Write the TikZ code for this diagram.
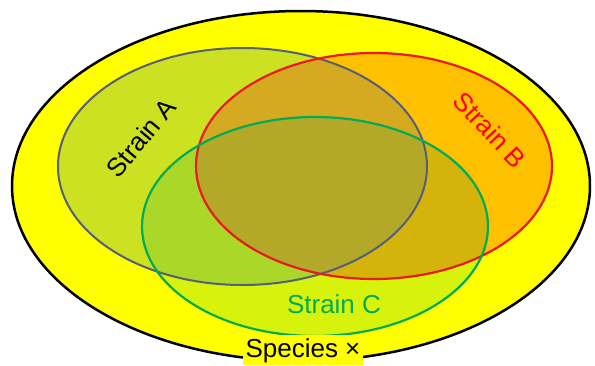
\documentclass[tikz,border=0pt]{standalone}
\usepackage{fontspec}
\setmainfont{Liberation Sans}
\definecolor{ybg}{RGB}{255,255,0}
\definecolor{aonly}{RGB}{205,225,35}
\definecolor{bonly}{RGB}{255,192,0}
\definecolor{conly}{RGB}{215,243,12}
\definecolor{abcol}{RGB}{214,170,32}
\definecolor{accol}{RGB}{170,215,40}
\definecolor{bccol}{RGB}{212,180,10}
\definecolor{abccol}{RGB}{180,168,40}
\definecolor{abord}{RGB}{85,95,120}
\definecolor{bbord}{RGB}{235,25,25}
\definecolor{cbord}{RGB}{0,172,85}
\tikzset{lbl/.style={font=\fontsize{26}{30}\selectfont, inner sep=1pt}}
\begin{document}
\begin{tikzpicture}[x=1pt,y=-1pt]
\useasboundingbox (0,0) rectangle (595,365);
\fill[white] (0,0) rectangle (595,365);
\def\shO{(301,186) ellipse [x radius=289pt, y radius=175pt]}
\def\shA{(242.5,166.5) ellipse [x radius=184.5pt, y radius=118.5pt]}
\def\shB{(374,166) ellipse [x radius=178pt, y radius=113pt]}
\def\shC{(315,226.5) ellipse [x radius=173pt, y radius=109.5pt]}
\fill[ybg] \shO;
\fill[aonly] \shA;
\fill[bonly] \shB;
\fill[conly] \shC;
\begin{scope}\clip \shA; \fill[abcol] \shB; \fill[accol] \shC; \end{scope}
\begin{scope}\clip \shB; \fill[bccol] \shC; \end{scope}
\begin{scope}\clip \shA; \clip \shB; \fill[abccol] \shC; \end{scope}
\draw[black, line width=2.5pt] \shO;
\draw[abord, line width=2pt] \shA;
\draw[bbord, line width=2.2pt] \shB;
\draw[cbord, line width=2.2pt] \shC;
\node[lbl, rotate=50] (la) at (141,138) {Strain A};
\node[lbl, rotate=-47, text=red] (lb) at (490,130) {Strain B};
\node[lbl, anchor=base, text=cbord] (lc) at (334,313) {Strain C};
\node[lbl, anchor=base, fill=ybg, inner sep=3pt] (ls) at (303,357) {Species ×};
\end{tikzpicture}
\end{document}
